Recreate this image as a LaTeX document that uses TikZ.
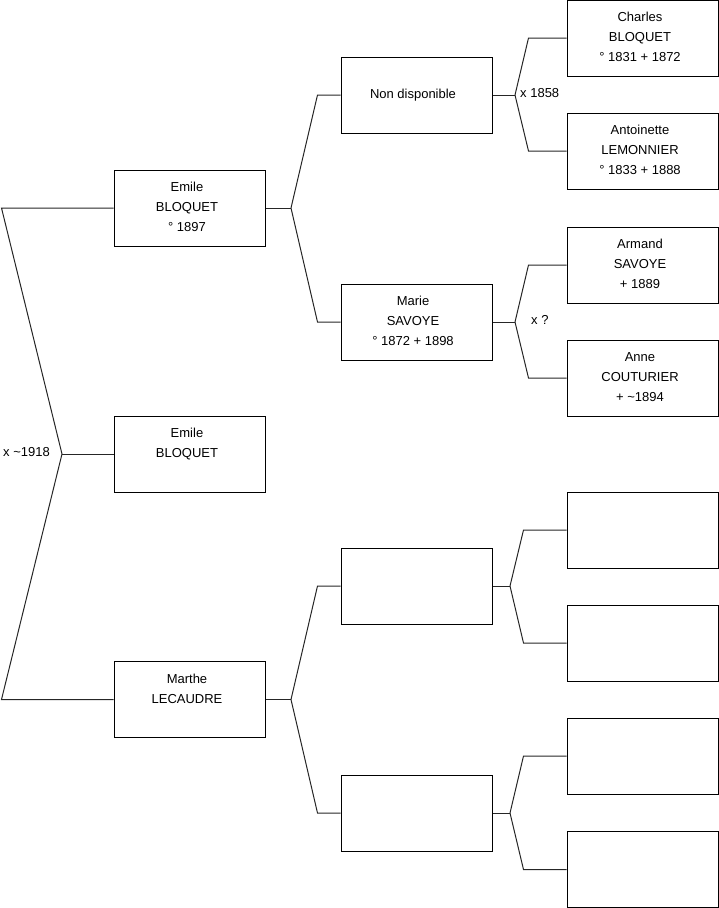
\documentclass[tikz,border=0pt]{standalone}
\usepackage{fontspec}
\setmainfont{Liberation Sans}
\newcommand{\ptext}[2][5pt]{\raisebox{0.3pt}[\height][\depth]{\begin{tabular}{@{}c@{}}#2\end{tabular}}\hspace*{#1}}
\begin{document}
\begin{tikzpicture}[x=1pt,y=-1pt,
  person/.style={draw=black, line width=1pt, minimum width=151pt, minimum height=76pt, inner sep=0pt, font=\fontsize{13}{20}\selectfont},
  link/.style={draw=black!85, line width=1pt, line join=miter},
  lab/.style={inner sep=0pt, font=\fontsize{13}{15}\selectfont}]
\useasboundingbox (0,0) rectangle (719,908);
% column 0
\node[person] (e1) at (189.5,208) {\ptext{Emile\\BLOQUET\\° 1897}};
\node[person] (e2) at (189.5,454) {\ptext{Emile\\BLOQUET\\ \mbox{}}};
\node[person] (m)  at (189.5,699.5) {\ptext{Marthe\\LECAUDRE\\ \mbox{}}};
% column 1
\node[person] (nd) at (416.5,95)  {\ptext[7pt]{Non disponible}};
\node[person] (ms) at (416.5,322) {\ptext[7pt]{Marie\\SAVOYE\\° 1872 + 1898}};
\node[person] (b1) at (416.5,586) {};
\node[person] (b2) at (416.5,813) {};
% column 2
\node[person] (cb) at (642.5,38)  {\ptext{Charles\\BLOQUET\\° 1831 + 1872}};
\node[person] (al) at (642.5,151) {\ptext{Antoinette\\LEMONNIER\\° 1833 + 1888}};
\node[person] (as) at (642.5,265) {\ptext{Armand\\SAVOYE\\+ 1889}};
\node[person] (ac) at (642.5,378) {\ptext{Anne\\COUTURIER\\+ \textasciitilde 1894}};
\node[person] (p5) at (642.5,530) {};
\node[person] (p6) at (642.5,643) {};
\node[person] (p7) at (642.5,756) {};
\node[person] (p8) at (642.5,869.5) {};
% vertices
\coordinate (v0) at (62,454);
\coordinate (v1) at (291,208);
\coordinate (v2) at (291,699.5);
\coordinate (v3) at (515,95);
\coordinate (v4) at (515,322);
\coordinate (v5) at (510,586);
\coordinate (v6) at (510,813);
% level 0
\draw[link] (e1.west) -- ([xshift=-112pt]e1.west) -- (v0) -- ([xshift=-112pt]m.west) -- (m.west);
\draw[link] (v0) -- (e2.west);
% level 1
\draw[link] (e1.east) -- (v1);
\draw[link] (v1) -- ([xshift=-23pt]nd.west) -- (nd.west);
\draw[link] (v1) -- ([xshift=-23pt]ms.west) -- (ms.west);
\draw[link] (m.east) -- (v2);
\draw[link] (v2) -- ([xshift=-23pt]b1.west) -- (b1.west);
\draw[link] (v2) -- ([xshift=-23pt]b2.west) -- (b2.west);
% level 2
\draw[link] (nd.east) -- (v3);
\draw[link] (v3) -- ([xshift=-38pt]cb.west) -- (cb.west);
\draw[link] (v3) -- ([xshift=-38pt]al.west) -- (al.west);
\draw[link] (ms.east) -- (v4);
\draw[link] (v4) -- ([xshift=-38pt]as.west) -- (as.west);
\draw[link] (v4) -- ([xshift=-38pt]ac.west) -- (ac.west);
\draw[link] (b1.east) -- (v5);
\draw[link] (v5) -- ([xshift=-43pt]p5.west) -- (p5.west);
\draw[link] (v5) -- ([xshift=-43pt]p6.west) -- (p6.west);
\draw[link] (b2.east) -- (v6);
\draw[link] (v6) -- ([xshift=-43pt]p7.west) -- (p7.west);
\draw[link] (v6) -- ([xshift=-43pt]p8.west) -- (p8.west);
% marriage labels
\node[lab, anchor=west] (l0) at (3,452) {x \textasciitilde 1918};
\node[lab, anchor=west] (l1) at (520,93) {x 1858};
\node[lab, anchor=west] (l2) at (531,320) {x ?};
\end{tikzpicture}
\end{document}
